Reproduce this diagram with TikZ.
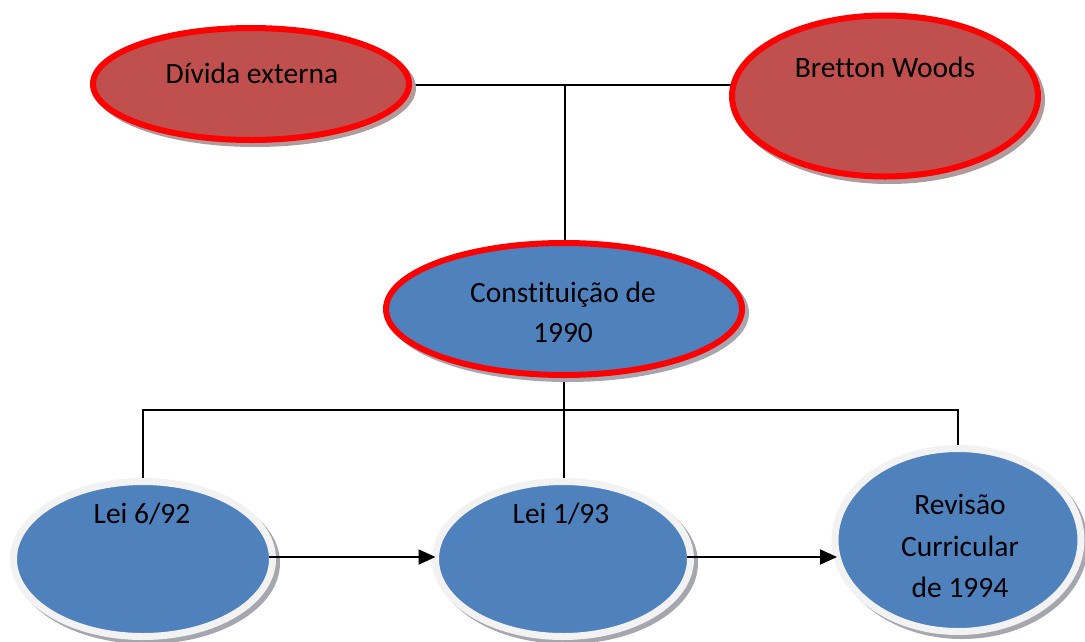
\documentclass[tikz,border=0pt]{standalone}
\usepackage{fontspec}
\setmainfont[Ligatures=NoCommon]{Carlito}
\usetikzlibrary{shapes.geometric,arrows.meta,backgrounds}
\definecolor{redfill}{HTML}{C0504D}
\definecolor{bluefill}{HTML}{4F81BD}
\definecolor{rim}{HTML}{F2F2F2}
\definecolor{redline}{HTML}{FF0000}
\definecolor{shade}{HTML}{A6A6AE}
\definecolor{shadered}{HTML}{B09A9A}
\tikzset{
  ell/.style={ellipse, inner sep=0pt, outer sep=0pt},
  redell/.style={ell, fill=redfill, draw=redline, line width=6pt},
  bluered/.style={ell, fill=bluefill, draw=redline, line width=6pt},
  blueell/.style={ell, fill=bluefill, draw=rim, line width=7pt},
  shadow/.style={fill=shade, draw=none},
  txt/.style={anchor=base, inner sep=0pt, font=\fontsize{29.5}{39}\selectfont},
  conn/.style={line width=1.3pt, black},
  arr/.style={line width=2pt, black, -{Triangle[length=17pt,width=15pt]}}
}
\begin{document}
\begin{tikzpicture}[x=1pt,y=-1pt]
\useasboundingbox (0,0) rectangle (1085,641);
% shadows
\fill[shadow, fill=shadered] (255,88) ellipse [x radius=161, y radius=59];
\fill[shadow, fill=shadered] (889,100) ellipse [x radius=156, y radius=84];
\fill[shadow] (568,313) ellipse [x radius=181, y radius=69];
\fill[shadow] (147,563) ellipse [x radius=133, y radius=81];
\fill[shadow] (567,563) ellipse [x radius=131, y radius=81];
\fill[shadow] (962,544) ellipse [x radius=126, y radius=95];
% ellipses
\node[redell, minimum width=316pt, minimum height=112pt] (d) at (251,84) {};
\node[redell, minimum width=306pt, minimum height=161pt] (b) at (885,96) {};
\node[bluered, minimum width=356pt, minimum height=132pt] (c) at (564,309) {};
\node[blueell, minimum width=259pt, minimum height=155pt] (l1) at (143,559) {};
\node[blueell, minimum width=255pt, minimum height=155pt] (l2) at (563,559) {};
\node[blueell, minimum width=246pt, minimum height=183pt] (r) at (958,540) {};
% texts
\node[txt] (td) at (252,83) {Dívida externa};
\node[txt] (tb) at (885,77) {Bretton Woods};
\node[txt] (tc1) at (563,302) {Constituição de};
\node[txt] (tc2) at (563,342) {1990};
\node[txt] (tl1) at (142,523) {Lei 6/92};
\node[txt] (tl2) at (561,523) {Lei 1/93};
\node[txt] (tr1) at (960,514) {Revisão};
\node[txt] (tr2) at (960,556) {Curricular};
\node[txt] (tr3) at (960,597) {de 1994};
% connectors
\begin{pgfonlayer}{background}
\coordinate (j1) at (565,85);
\draw[conn] (d.east |- j1) -- (j1) -- (b.west |- j1);
\draw[conn] (j1) -- (j1 |- c.north);
\draw[conn] (c.south) -- ++(0,35) coordinate (j2);
\draw[conn] (l1.north) |- (j2) -| (r.north);
\draw[conn] (j2) -- (j2 |- l2.north);
\end{pgfonlayer}
\coordinate (a1) at ([xshift=-4pt,yshift=2pt]l1.east);
\coordinate (a2) at ([xshift=-4pt,yshift=2pt]l2.east);
\draw[arr] (a1) -- (a1 -| l2.west);
\draw[arr] (a2) -- ([xshift=2pt]a2 -| r.west);
\end{tikzpicture}
\end{document}
